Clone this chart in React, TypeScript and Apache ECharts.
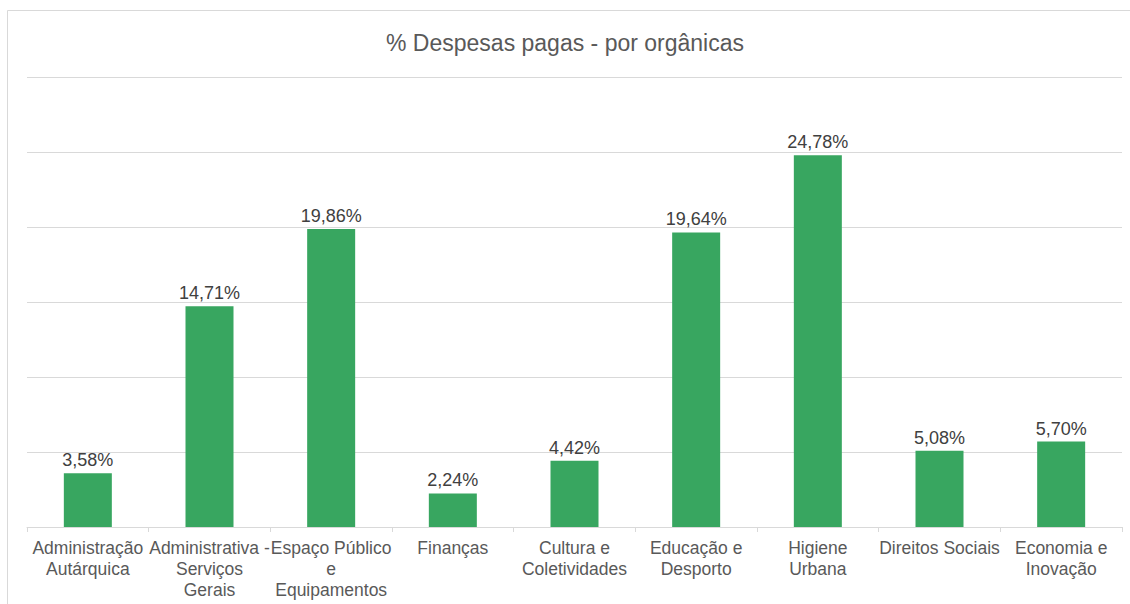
import React, { useEffect, useRef } from "react";
import * as echarts from "echarts";

const categories = [
  "Administração\nAutárquica",
  "Administrativa -\nServiços\nGerais",
  "Espaço Público\ne\nEquipamentos",
  "Finanças",
  "Cultura e\nColetividades",
  "Educação e\nDesporto",
  "Higiene\nUrbana",
  "Direitos Sociais",
  "Economia e\nInovação",
];
const values = [3.58, 14.71, 19.86, 2.24, 4.42, 19.64, 24.78, 5.08, 5.7];
const title = "% Despesas pagas - por orgânicas";

export default function App() {
  const ref = useRef<HTMLDivElement>(null);
  useEffect(() => {
    if (!ref.current) return;
    const chart = echarts.init(ref.current, null, { renderer: "svg" });
    const font = "'Liberation Sans', Arial, sans-serif";
    chart.setOption({
      animation: false,
      backgroundColor: "#ffffff",
      textStyle: { fontFamily: font },
      title: {
        text: title,
        left: "center",
        top: 26,
        textStyle: { fontFamily: font, fontSize: 23, fontWeight: "normal", color: "#595959" },
      },
      graphic: [
        {
          type: "rect",
          shape: { x: 7.5, y: 10.5, width: 1140, height: 620 },
          style: { fill: "none", stroke: "#d9d9d9", lineWidth: 1 },
          silent: true,
        },
      ],
      grid: { left: 27, right: 8, top: 77, bottom: 77, containLabel: false },
      xAxis: {
        type: "category",
        data: categories,
        axisLine: { show: true, lineStyle: { color: "#d9d9d9", width: 1 } },
        axisTick: { show: true, alignWithLabel: false, length: 5, lineStyle: { color: "#d9d9d9" } },
        axisLabel: {
          interval: 0,
          color: "#595959",
          fontSize: 17.5,
          lineHeight: 21,
          margin: 10,
          fontFamily: font,
        },
      },
      yAxis: {
        type: "value",
        min: 0,
        max: 30,
        interval: 5,
        axisLabel: { show: false },
        axisLine: { show: false },
        axisTick: { show: false },
        splitLine: { show: true, lineStyle: { color: "#d9d9d9", width: 1 } },
      },
      series: [
        {
          type: "bar",
          data: values,
          barWidth: 48,
          itemStyle: { color: "#38A660" },
          label: {
            show: true,
            position: "top",
            distance: 4,
            color: "#404040",
            fontSize: 18,
            fontFamily: font,
            formatter: (p: any) => p.value.toFixed(2).replace(".", ",") + "%",
          },
        },
      ],
    });
    return () => chart.dispose();
  }, []);
  return (
    <div
      ref={ref}
      style={{ position: "fixed", left: 0, top: 0, width: 1130, height: 604 }}
    />
  );
}
